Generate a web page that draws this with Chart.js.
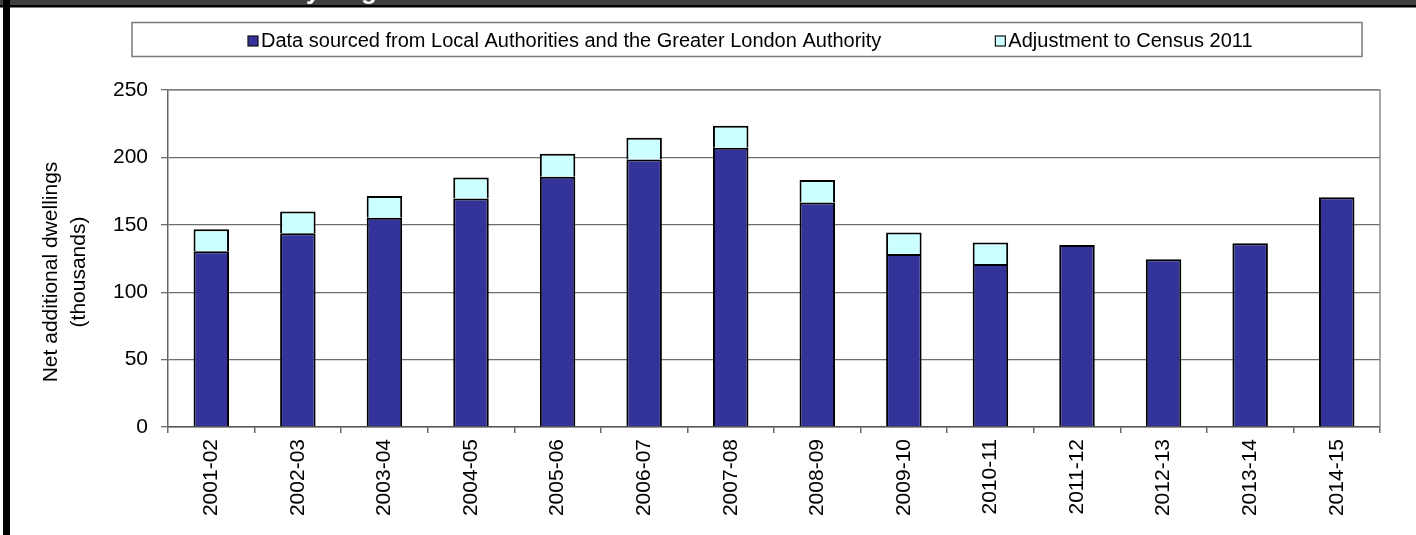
<!DOCTYPE html>
<html>
<head>
<meta charset="utf-8">
<script src="https://cdn.jsdelivr.net/npm/chart.js@4"></script>
<style>
  html, body { margin: 0; padding: 0; background: #fff; }
  #wrap { width: 1416px; height: 535px; position: relative; }
</style>
</head>
<body>
<div id="wrap"><canvas id="chart" width="1416" height="535"></canvas></div>
<script>
// data (thousands)
const years = ['2001-02', '2002-03', '2003-04', '2004-05', '2005-06', '2006-07', '2007-08',
    '2008-09', '2009-10', '2010-11', '2011-12', '2012-13', '2013-14', '2014-15']
const localAuthorityData = [130.4, 143.8, 155.2, 169.5, 185.6, 198.5, 207.1, 166.6, 128.4, 121.0, 135.1, 124.5, 136.4, 170.5]
const censusAdjustment = [16.3, 16.1, 16.1, 15.6, 17.1, 16.1, 16.4, 16.6, 15.9, 15.9, null, null, null, null]
const seriesNames = ['Data sourced from Local Authorities and the Greater London Authority', 'Adjustment to Census 2011']
const yAxisTitle = ['Net additional dwellings', '(thousands)']
const yMax = 250
const yStep = 50
const pageTitle = 'Net Additions by Region'

const FONT = '"Liberation Sans", Arial, sans-serif'

// draws the framed legend, plot border, y title and the clipped page header
const framePlugin = {
    id: 'frame',
    beforeDraw(chart) {
        const ctx = chart.ctx
        ctx.save()
        ctx.fillStyle = '#fff'
        ctx.fillRect(0, 0, chart.width, chart.height)
        ctx.restore()
    },
    afterDraw(chart) {
        const { ctx, chartArea: a } = chart
        ctx.save()

        // top + right border of plot area
        ctx.strokeStyle = '#8c8c8c'
        ctx.lineWidth = 1.5
        ctx.beginPath()
        ctx.moveTo(a.left, a.top)
        ctx.lineTo(a.right, a.top)
        ctx.lineTo(a.right, a.bottom)
        ctx.stroke()

        // y axis title (two lines, rotated)
        ctx.save()
        ctx.translate(51, 272)
        ctx.rotate(-Math.PI / 2)
        ctx.font = '21px ' + FONT
        ctx.fillStyle = '#000'
        ctx.textAlign = 'center'
        ctx.textBaseline = 'middle'
        yAxisTitle.forEach((line, i) => ctx.fillText(line, 0, i * 28))
        ctx.restore()

        // legend frame
        ctx.strokeStyle = '#7a7a7a'
        ctx.lineWidth = 1.5
        ctx.strokeRect(132, 22.5, 1230, 34)

        // legend items
        ctx.font = '20px ' + FONT
        ctx.textBaseline = 'middle'
        ctx.textAlign = 'left'
        let x = 248
        chart.data.datasets.forEach((ds, i) => {
            ctx.fillStyle = ds.backgroundColor
            ctx.fillRect(x, 36, 10, 10)
            ctx.strokeStyle = '#111'
            ctx.lineWidth = 1.2
            ctx.strokeRect(x, 36, 10, 10)
            ctx.fillStyle = '#000'
            ctx.fillText(ds.label, x + 13, 41)
            x = x + 13 + ctx.measureText(ds.label).width + 114
        })

        // page header band, mostly cut off
        ctx.fillStyle = '#404040'
        ctx.fillRect(0, 0, chart.width, 5)
        ctx.save()
        ctx.beginPath()
        ctx.rect(0, 0, chart.width, 5)
        ctx.clip()
        ctx.font = 'bold 26px ' + FONT
        ctx.fillStyle = '#fff'
        ctx.textBaseline = 'alphabetic'
        const lead = ctx.measureText(pageTitle.slice(0, pageTitle.indexOf('by') + 1)).width
        ctx.fillText(pageTitle, 306 - lead, -1)
        ctx.restore()
        ctx.fillStyle = '#000'
        ctx.fillRect(0, 5, chart.width, 2.5)
        ctx.fillRect(3, 0, 7, chart.height)

        ctx.restore()
    }
}

const ctx = document.getElementById('chart').getContext('2d')
const chart = new Chart(ctx, {
    type: 'bar',
    data: {
        labels: years,
        datasets: [{
            label: seriesNames[0],
            data: localAuthorityData,
            backgroundColor: '#333399',
            borderColor: '#000',
            borderWidth: 2,
            barPercentage: 0.41,
            categoryPercentage: 1
        }, {
            label: seriesNames[1],
            data: censusAdjustment,
            backgroundColor: '#ccffff',
            borderColor: '#000',
            borderWidth: 2,
            barPercentage: 0.41,
            categoryPercentage: 1
        }]
    },
    options: {
        responsive: false,
        animation: false,
        devicePixelRatio: 1,
        layout: { padding: { left: 0, top: 90, right: 36, bottom: 0 } },
        plugins: {
            legend: { display: false },
            tooltip: { enabled: false }
        },
        scales: {
            x: {
                stacked: true,
                afterFit(scale) { scale.height = 108 },
                grid: {
                    offset: true,
                    drawOnChartArea: false,
                    drawTicks: true,
                    tickLength: 6,
                    color: '#666',
                    lineWidth: 1.5
                },
                border: { color: '#555', width: 1.5 },
                ticks: {
                    minRotation: 90,
                    maxRotation: 90,
                    autoSkip: false,
                    padding: 6,
                    color: '#000',
                    font: { family: FONT, size: 21 }
                }
            },
            y: {
                stacked: true,
                min: 0,
                max: yMax,
                afterFit(scale) { scale.width = 168 },
                grid: {
                    color: '#6e6e6e',
                    lineWidth: 1.3,
                    drawTicks: true,
                    tickLength: 7
                },
                border: { color: '#666', width: 1.5 },
                ticks: {
                    stepSize: yStep,
                    padding: 13,
                    color: '#000',
                    font: { family: FONT, size: 21 }
                }
            }
        }
    },
    plugins: [framePlugin]
})
</script>
</body>
</html>
